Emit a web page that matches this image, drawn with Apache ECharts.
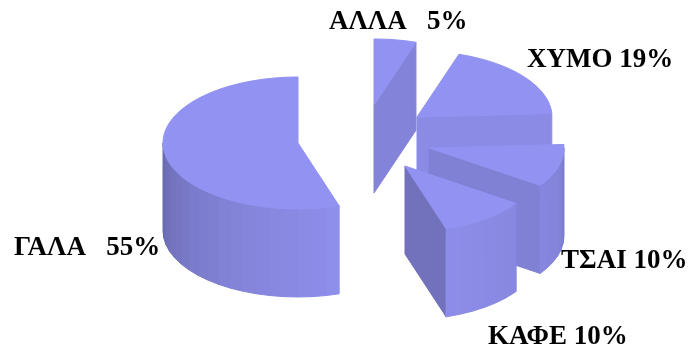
<!DOCTYPE html>
<html><head><meta charset="utf-8">
<style>html,body{margin:0;padding:0;background:#fff}#c{width:691px;height:354px}</style>
<script src="https://cdn.jsdelivr.net/npm/echarts@6/dist/echarts.min.js"></script>
</head><body><div id="c"></div>
<script>
// Clockwise from 12 o'clock. Shares are estimated from the slice angles; they round to the printed percentages.
const categories = ['ΑΛΛΑ', 'ΧΥΜΟ', 'ΤΣΑΙ', 'ΚΑΦΕ', 'ΓΑΛΑ'];
const shares = [5, 19, 10.4, 10.4, 54.6];
const sliceLabels = ['ΑΛΛΑ   5%', 'ΧΥΜΟ 19%', 'ΤΣΑΙ 10%', 'ΚΑΦΕ 10%', 'ΓΑΛΑ   55%'];

// Layout, in chart units
const pie = { cx: 298, cy: 143, rx: 135, ry: 66, depth: 88 };
const explodeX = [76, 119, 131, 107, 0];
const explodeY = [-38, -26, 5, 23, 0];
const labelX = [329, 527, 561, 488, 14];
const labelY = [22, 60, 261, 337, 248];
const topColor = [146, 146, 242];
const shadeStops = [[0, .86], [90, .83], [108, .90], [130, .93], [165, .97], [200, .91], [235, .83], [270, .72], [360, .72]];

const total = shares.reduce((a, b) => a + b, 0);
let running = 0;
const rows = shares.map((v, i) => { const r = [v, running, i]; running += v; return r; });

function shade(dir) {
  dir = ((dir % 360) + 360) % 360;
  for (let i = 1; i < shadeStops.length; i++) {
    const a = shadeStops[i - 1], b = shadeStops[i];
    if (dir <= b[0]) {
      const f = a[1] + (b[1] - a[1]) * (dir - a[0]) / (b[0] - a[0]);
      return 'rgb(' + topColor.map(c => Math.round(c * f)).join(',') + ')';
    }
  }
  return 'rgb(' + topColor.join(',') + ')';
}

function renderSlice(params, api) {
  const value = api.value(0), start = api.value(1), i = api.value(2);
  const t0 = start / total * 360, t1 = (start + value) / total * 360;
  const ax = pie.cx + explodeX[i], ay = pie.cy + explodeY[i];
  const rad = d => d * Math.PI / 180;
  const rim = (t, h) => api.coord([ax + pie.rx * Math.sin(rad(t)), ay - pie.ry * Math.cos(rad(t)) + (h || 0)]);
  const apex = (h) => api.coord([ax, ay + (h || 0)]);
  const poly = (points, fill, z) => ({
    type: 'polygon', z2: z, shape: { points },
    style: { fill, stroke: fill, lineWidth: 1 }
  });
  const children = [];
  // Cut faces
  if (Math.sin(rad(t0)) < -1e-6) {
    children.push(poly([apex(), rim(t0), rim(t0, pie.depth), apex(pie.depth)], shade(t0 - 90), 1));
  }
  if (Math.sin(rad(t1)) > 1e-6) {
    children.push(poly([apex(), rim(t1), rim(t1, pie.depth), apex(pie.depth)], shade(t1 + 90), 1));
  }
  // Outer wall, drawn as stepped vertical strips
  const a = Math.max(t0, 90), b = Math.min(t1, 270), step = 6;
  for (let t = Math.ceil(a / step) * step - step; t < b; t += step) {
    const s = Math.max(t, a), e = Math.min(t + step, b);
    if (e <= s) continue;
    children.push(poly([rim(s), rim(e), rim(e, pie.depth), rim(s, pie.depth)], shade(t + step / 2), 2));
  }
  // Top face
  const top = [apex()];
  const n = Math.max(2, Math.ceil((t1 - t0) / 2));
  for (let k = 0; k <= n; k++) top.push(rim(t0 + (t1 - t0) * k / n));
  children.push(poly(top, 'rgb(' + topColor.join(',') + ')', 3));
  // Label
  const p = api.coord([labelX[i], labelY[i]]);
  children.push({
    type: 'text', z2: 10, x: p[0], y: p[1],
    style: { text: sliceLabels[i], fill: '#000', font: 'bold 27px "Liberation Serif", serif', textAlign: 'left', textVerticalAlign: 'middle' }
  });
  return { type: 'group', children };
}

const chart = echarts.init(document.getElementById('c'), null, { renderer: 'canvas' });
chart.setOption({
  animation: false,
  backgroundColor: '#fff',
  grid: { left: 0, right: 0, top: 0, bottom: 0 },
  xAxis: { type: 'value', min: 0, max: 691, show: false },
  yAxis: { type: 'value', min: 0, max: 354, inverse: true, show: false },
  series: [{
    type: 'custom', name: 'share', coordinateSystem: 'cartesian2d',
    renderItem: renderSlice, clip: false, silent: true,
    encode: { x: 0, y: 1 },
    data: rows
  }]
});
</script></body></html>
